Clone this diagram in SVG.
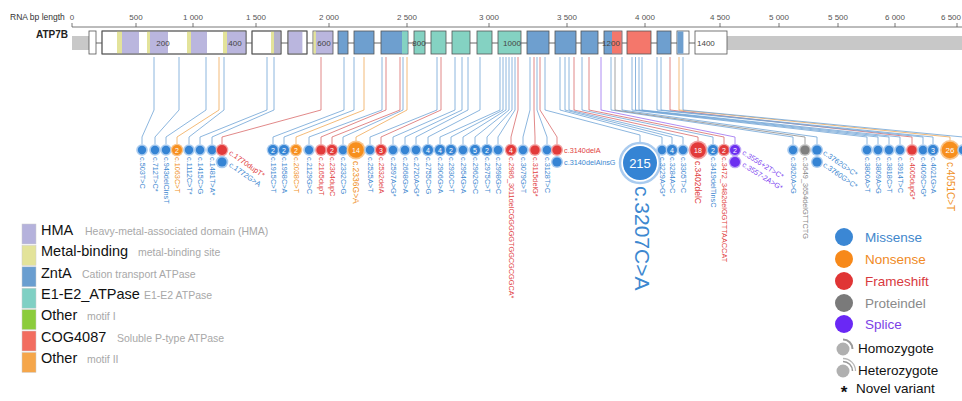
<svg xmlns="http://www.w3.org/2000/svg" width="962" height="401" viewBox="0 0 962 401">
<style>
text{font-family:"Liberation Sans",Arial,sans-serif}
.ax{font-size:8px;fill:#555;text-anchor:middle}
.bx{stroke:#555;stroke-width:0.8;fill:#fff}
.bl{font-size:8px;fill:#444;text-anchor:middle}
.cn{fill:none;stroke-width:0.8}
.kb{stroke:#6fa3d6}.ko{stroke:#f0a855}.kr{stroke:#d96b6b}.kp{stroke:#9b6ef0}.kg{stroke:#8a8a8a}
.hb{fill:#a9cbef}.ho{fill:#f9c48a}.hr{fill:#f2a2a2}.hg{fill:#c4c4c4}.hp{fill:#bca4f6}
.fb{fill:#3584d4}.fo{fill:#f78f1e}.fr{fill:#e23a3a}.fg{fill:#7f7f7f}.fp{fill:#6d2ff0}
.n{font-size:7px;fill:#fff;text-anchor:middle;dominant-baseline:central}
.t{font-size:7.3px;dominant-baseline:central}
.tb{fill:#3d88d0}.to{fill:#f0901e}.tr{fill:#df3f3f}.tg{fill:#888}.tp{fill:#7b3ff0}
.lg{font-size:14.5px;fill:#111}
.ld{font-size:10.5px;fill:#a8a8a8}
.rl{font-size:13.5px}
</style>

<g id="axis">
<text x="10" y="20" style="font-size:8.5px;fill:#333">RNA bp length</text>
<line x1="72" y1="27" x2="962" y2="27" stroke="#555" stroke-width="0.8"/>
<g stroke="#555" stroke-width="0.8">
<line x1="72" y1="23" x2="72" y2="27"/><line x1="136" y1="23" x2="136" y2="27"/><line x1="193" y1="23" x2="193" y2="27"/><line x1="256" y1="23" x2="256" y2="27"/><line x1="329" y1="23" x2="329" y2="27"/><line x1="407" y1="23" x2="407" y2="27"/><line x1="489" y1="23" x2="489" y2="27"/><line x1="567" y1="23" x2="567" y2="27"/><line x1="645" y1="23" x2="645" y2="27"/><line x1="720" y1="23" x2="720" y2="27"/><line x1="779" y1="23" x2="779" y2="27"/><line x1="838" y1="23" x2="838" y2="27"/><line x1="895" y1="23" x2="895" y2="27"/><line x1="957" y1="23" x2="957" y2="27"/>
</g>
<text class="ax" x="72" y="20">0</text><text class="ax" x="136" y="20">500</text><text class="ax" x="193" y="20">1 000</text><text class="ax" x="256" y="20">1 500</text><text class="ax" x="329" y="20">2 000</text><text class="ax" x="407" y="20">2 500</text><text class="ax" x="489" y="20">3 000</text><text class="ax" x="567" y="20">3 500</text><text class="ax" x="645" y="20">4 000</text><text class="ax" x="720" y="20">4 500</text><text class="ax" x="779" y="20">5 000</text><text class="ax" x="838" y="20">5 500</text><text class="ax" x="895" y="20">6 000</text><text class="ax" x="961" y="20" style="text-anchor:end">6 500</text>
</g>

<g id="gene">
<text x="36" y="38" style="font-size:10px;font-weight:bold;fill:#222">ATP7B</text>
<rect x="72" y="36" width="17" height="14" fill="#c8c8c8"/>
<rect x="727" y="36" width="235" height="14" fill="#c8c8c8"/>
<line x1="89" y1="43" x2="727" y2="43" stroke="#555" stroke-width="0.9"/>
<rect class="bx" x="89" y="31" width="7" height="23"/>
<rect class="bx" x="102" y="31" width="144" height="23"/>
<rect x="117" y="31.4" width="5" height="22.2" fill="#e3e39a"/><rect x="122" y="31.4" width="17" height="22.2" fill="#bab6de"/>
<rect x="147" y="31.4" width="3" height="22.2" fill="#e3e39a"/><rect x="150" y="31.4" width="18" height="22.2" fill="#bab6de"/>
<rect x="187" y="31.4" width="4" height="22.2" fill="#e3e39a"/><rect x="191" y="31.4" width="16" height="22.2" fill="#bab6de"/>
<rect x="223" y="31.4" width="4" height="22.2" fill="#e3e39a"/><rect x="227" y="31.4" width="19" height="22.2" fill="#bab6de"/>
<rect x="102" y="31" width="144" height="23" fill="none" stroke="#555" stroke-width="0.8"/>
<text class="bl" x="163" y="46">200</text><text class="bl" x="235" y="46">400</text>
<rect class="bx" x="252" y="31" width="29" height="23"/>
<rect x="271" y="31.4" width="3" height="22.2" fill="#e3e39a"/><rect x="274" y="31.4" width="6.6" height="22.2" fill="#b4b2cc"/>
<rect x="252" y="31" width="29" height="23" fill="none" stroke="#555" stroke-width="0.8"/>
<rect class="bx" x="288" y="31" width="19" height="23"/>
<rect x="288.4" y="31.4" width="14" height="22.2" fill="#bab6de"/>
<rect x="288" y="31" width="19" height="23" fill="none" stroke="#555" stroke-width="0.8"/>
<rect x="313" y="31" width="20" height="23" fill="#bab6de" stroke="#555" stroke-width="0.8"/>
<rect x="313.4" y="31.4" width="2.5" height="22.2" fill="#e3e39a"/>
<text class="bl" x="324" y="46">600</text>
<g stroke="#555" stroke-width="0.8">
<rect x="338" y="31" width="10" height="23" fill="#6e9fcf"/>
<rect x="354" y="31" width="20" height="23" fill="#6e9fcf"/>
<rect x="381" y="31" width="27" height="23" fill="#6e9fcf"/>
<rect x="414" y="31" width="11" height="23" fill="#84d2c2"/>
<rect x="431" y="31" width="15" height="23" fill="#84d2c2"/>
<rect x="452" y="31" width="18" height="23" fill="#84d2c2"/>
<rect x="477" y="31" width="15" height="23" fill="#84d2c2"/>
<rect x="498" y="31" width="23" height="23" fill="#84d2c2"/>
<rect x="527" y="31" width="22" height="23" fill="#6e9fcf"/>
<rect x="555" y="31" width="21" height="23" fill="#6e9fcf"/>
<rect x="581" y="31" width="17" height="23" fill="#6e9fcf"/>
<rect x="604" y="31" width="18" height="23" fill="#6e9fcf"/>
<rect x="627" y="31" width="24" height="23" fill="#f4776b"/>
<rect x="657" y="31" width="14" height="23" fill="#6e9fcf"/>
<rect x="677" y="31" width="12" height="23" fill="#fff"/>
<rect x="695" y="31" width="32" height="23" fill="#fff"/>
</g>
<rect x="402" y="31.4" width="5.6" height="22.2" fill="#84d2c2"/>
<rect x="612" y="31.4" width="9.6" height="22.2" fill="#f4776b"/>
<rect x="677.4" y="31.4" width="6" height="22.2" fill="#6e9fcf"/>
<text class="bl" x="419" y="46">800</text>
<text class="bl" x="512" y="46">1000</text>
<text class="bl" x="611" y="46">1200</text>
<text class="bl" x="697" y="46" style="text-anchor:start">1400</text>
</g>

<g id="connectors">
<polyline class="cn kb" points="154,57 154,110 142,137 142,144"/>
<polyline class="cn kb" points="179,57 179,110 155,137 155,144"/>
<polyline class="cn kb" points="206,57 206,110 166,137 166,144"/>
<polyline class="cn ko" points="219,57 219,110 177,137 177,144"/>
<polyline class="cn kb" points="224,57 224,110 189,137 189,144"/>
<polyline class="cn kb" points="267,57 267,110 200,137 200,144"/>
<polyline class="cn kb" points="274,57 274,110 212,137 212,144"/>
<polyline class="cn kr" points="321,57 321,110 222,137 222,144"/>
<polyline class="cn kb" points="344,57 344,110 273,137 273,144"/>
<polyline class="cn kb" points="354,57 354,110 284,137 284,144"/>
<polyline class="cn ko" points="364,57 364,110 296,137 296,144"/>
<polyline class="cn kb" points="382,57 382,110 309,137 309,144"/>
<polyline class="cn kr" points="386,57 386,110 321,137 321,144"/>
<polyline class="cn kr" points="400,57 400,110 332,137 332,144"/>
<polyline class="cn kb" points="403,57 403,110 343,137 343,144"/>
<polyline class="cn ko" points="407,57 407,110 356,137 356,141"/>
<polyline class="cn kb" points="437,57 437,110 370,137 370,144"/>
<polyline class="cn kr" points="441,57 441,110 381,137 381,144"/>
<polyline class="cn kb" points="455,57 455,110 393,137 393,144"/>
<polyline class="cn kb" points="462,57 462,110 405,137 405,144"/>
<polyline class="cn kb" points="468,57 468,110 416,137 416,144"/>
<polyline class="cn kb" points="480,57 480,110 428,137 428,144"/>
<polyline class="cn kb" points="500,57 500,110 440,137 440,144"/>
<polyline class="cn kb" points="503,57 503,110 451,137 451,144"/>
<polyline class="cn kb" points="506,57 506,110 463,137 463,144"/>
<polyline class="cn kb" points="509,57 509,110 475,137 475,144"/>
<polyline class="cn kb" points="512,57 512,110 487,137 487,144"/>
<polyline class="cn kb" points="515,57 515,110 498,137 498,144"/>
<polyline class="cn kr" points="518,57 518,110 511,137 511,144"/>
<polyline class="cn kb" points="530,57 530,110 523,137 523,144"/>
<polyline class="cn kr" points="534,57 534,110 535,137 535,144"/>
<polyline class="cn kb" points="537,57 537,110 547,137 547,144"/>
<polyline class="cn kr" points="540,57 540,110 557,137 557,144"/>
<polyline class="cn kb" points="545,57 545,110 640,135 640,143"/>
<polyline class="cn kb" points="560,57 560,110 662,137 662,144"/>
<polyline class="cn kb" points="565,57 565,110 672,137 672,144"/>
<polyline class="cn kb" points="569,57 569,110 683,137 683,144"/>
<polyline class="cn kr" points="574,57 574,110 698,137 698,141"/>
<polyline class="cn kb" points="582,57 582,110 713,137 713,144"/>
<polyline class="cn kr" points="589,57 589,110 724,137 724,144"/>
<polyline class="cn kp" points="601,57 601,110 735,137 735,144"/>
<polyline class="cn kb" points="611,57 611,110 793,137 793,144"/>
<polyline class="cn kg" points="615,57 615,110 805,137 805,144"/>
<polyline class="cn kb" points="622,57 622,110 817,137 817,144"/>
<polyline class="cn kb" points="632,57 632,110 867,137 867,144"/>
<polyline class="cn kb" points="635.5,57 635.5,110 878,137 878,144"/>
<polyline class="cn kb" points="639,57 639,110 889,137 889,144"/>
<polyline class="cn kb" points="642,57 642,110 900,137 900,144"/>
<polyline class="cn kr" points="670,57 670,110 912,137 912,144"/>
<polyline class="cn kb" points="657,57 657,110 923,137 923,144"/>
<polyline class="cn kb" points="661,57 661,110 933,137 933,144"/>
<polyline class="cn ko" points="679,57 679,110 950,137 950,140"/>
<polyline class="cn kb" points="683,57 683,110 963,137 963,144"/>
</g>

<g id="v503"><circle class="hb" cx="142" cy="150" r="5.8"/><circle class="fb" cx="142" cy="150" r="4.2"/><text class="t tb" x="142" y="157" transform="rotate(90 142 157)">c.503T&gt;C</text></g>
<g id="v712"><circle class="hb" cx="155" cy="150" r="5.8"/><circle class="fb" cx="155" cy="150" r="4.2"/><text class="t tb" x="155" y="157" transform="rotate(90 155 157)">c.712T&gt;C*</text></g>
<g id="v943"><circle class="hb" cx="166" cy="150" r="5.8"/><circle class="fb" cx="166" cy="150" r="4.2"/><text class="t tb" x="166" y="157" transform="rotate(90 166 157)">c.943delCinsT</text></g>
<g id="v1063"><circle class="ho" cx="177" cy="150" r="6.3"/><circle class="fo" cx="177" cy="150" r="5"/><text class="n" x="177" y="150">2</text><text class="t to" x="177" y="157" transform="rotate(90 177 157)">c.1063C&gt;T</text></g>
<g id="v1112"><circle class="hb" cx="189" cy="150" r="5.8"/><circle class="fb" cx="189" cy="150" r="4.2"/><text class="t tb" x="189" y="157" transform="rotate(90 189 157)">c.1112C&gt;T*</text></g>
<g id="v1415"><circle class="hb" cx="200" cy="150" r="5.8"/><circle class="fb" cx="200" cy="150" r="4.2"/><text class="t tb" x="200" y="157" transform="rotate(90 200 157)">c.1415C&gt;G</text></g>
<g id="v1481"><circle class="hb" cx="212" cy="150" r="5.8"/><circle class="fb" cx="212" cy="150" r="4.2"/><text class="t tb" x="212" y="157" transform="rotate(90 212 157)">c.1481T&gt;A*</text></g>
<g id="v1770"><circle class="hr" cx="222" cy="150" r="6.3"/><circle class="fr" cx="222" cy="150" r="5"/><text class="t tr" x="230" y="152" transform="rotate(35 230 152)">c.1770dupT*</text></g>
<g id="v1772"><circle class="hb" cx="222" cy="162" r="6.3"/><circle class="fb" cx="222" cy="162" r="4.6"/><text class="t tb" x="230" y="164" transform="rotate(35 230 164)">c.1772G&gt;A</text></g>
<g id="v1915"><circle class="hb" cx="273" cy="150" r="6.3"/><circle class="fb" cx="273" cy="150" r="5"/><text class="n" x="273" y="150">2</text><text class="t tb" x="273" y="157" transform="rotate(90 273 157)">c.1915C&gt;T</text></g>
<g id="v1958"><circle class="hb" cx="284" cy="150" r="6.3"/><circle class="fb" cx="284" cy="150" r="5"/><text class="n" x="284" y="150">2</text><text class="t tb" x="284" y="157" transform="rotate(90 284 157)">c.1958C&gt;A</text></g>
<g id="v2038"><circle class="ho" cx="296" cy="150" r="6.3"/><circle class="fo" cx="296" cy="150" r="5"/><text class="n" x="296" y="150">2</text><text class="t to" x="296" y="157" transform="rotate(90 296 157)">c.2038C&gt;T</text></g>
<g id="v2129"><circle class="hb" cx="309" cy="150" r="5.8"/><circle class="fb" cx="309" cy="150" r="4.2"/><text class="t tb" x="309" y="157" transform="rotate(90 309 157)">c.2129G&gt;C</text></g>
<g id="v2165"><circle class="hr" cx="321" cy="150" r="6"/><circle class="fr" cx="321" cy="150" r="4.6"/><text class="t tr" x="321" y="157" transform="rotate(90 321 157)">c.2165dupT</text></g>
<g id="v2304"><circle class="hr" cx="332" cy="150" r="6.3"/><circle class="fr" cx="332" cy="150" r="5"/><text class="n" x="332" y="150">2</text><text class="t tr" x="332" y="157" transform="rotate(90 332 157)">c.2304dupC</text></g>
<g id="v2332"><circle class="hb" cx="343" cy="150" r="5.8"/><circle class="fb" cx="343" cy="150" r="4.2"/><text class="t tb" x="343" y="157" transform="rotate(90 343 157)">c.2332C&gt;G</text></g>
<g id="v2336"><circle class="ho" cx="356" cy="150" r="9.5"/><circle class="fo" cx="356" cy="150" r="7.8"/><text class="n" x="356" y="150">14</text><text class="t to" x="356" y="161" transform="rotate(90 356 161)" style="font-size:8.5px">c.2336G&gt;A</text></g>
<g id="v2525"><circle class="hb" cx="370" cy="150" r="5.8"/><circle class="fb" cx="370" cy="150" r="4.2"/><text class="t tb" x="370" y="157" transform="rotate(90 370 157)">c.2525A&gt;T</text></g>
<g id="v2532"><circle class="hr" cx="381" cy="150" r="6.3"/><circle class="fr" cx="381" cy="150" r="5"/><text class="n" x="381" y="150">3</text><text class="t tr" x="381" y="157" transform="rotate(90 381 157)">c.2532delA</text></g>
<g id="v2597"><circle class="hb" cx="393" cy="150" r="5.8"/><circle class="fb" cx="393" cy="150" r="4.2"/><text class="t tb" x="393" y="157" transform="rotate(90 393 157)">c.2597A&gt;G*</text></g>
<g id="v2668"><circle class="hb" cx="405" cy="150" r="5.8"/><circle class="fb" cx="405" cy="150" r="4.2"/><text class="t tb" x="405" y="157" transform="rotate(90 405 157)">c.2668G&gt;A</text></g>
<g id="v2720"><circle class="hb" cx="416" cy="150" r="5.8"/><circle class="fb" cx="416" cy="150" r="4.2"/><text class="t tb" x="416" y="157" transform="rotate(90 416 157)">c.2720A&gt;G*</text></g>
<g id="v2755"><circle class="hb" cx="428" cy="150" r="6.3"/><circle class="fb" cx="428" cy="150" r="5"/><text class="n" x="428" y="150">4</text><text class="t tb" x="428" y="157" transform="rotate(90 428 157)">c.2755C&gt;G</text></g>
<g id="v2906"><circle class="hb" cx="440" cy="150" r="6.3"/><circle class="fb" cx="440" cy="150" r="5"/><text class="n" x="440" y="150">4</text><text class="t tb" x="440" y="157" transform="rotate(90 440 157)">c.2906G&gt;A</text></g>
<g id="v2930"><circle class="hb" cx="451" cy="150" r="6.3"/><circle class="fb" cx="451" cy="150" r="5"/><text class="n" x="451" y="150">2</text><text class="t tb" x="451" y="157" transform="rotate(90 451 157)">c.2930C&gt;T</text></g>
<g id="v2954"><circle class="hb" cx="463" cy="150" r="5.8"/><circle class="fb" cx="463" cy="150" r="4.2"/><text class="t tb" x="463" y="157" transform="rotate(90 463 157)">c.2954G&gt;A</text></g>
<g id="v2962"><circle class="hb" cx="475" cy="150" r="6.3"/><circle class="fb" cx="475" cy="150" r="5"/><text class="n" x="475" y="150">5</text><text class="t tb" x="475" y="157" transform="rotate(90 475 157)">c.2962G&gt;C</text></g>
<g id="v2975"><circle class="hb" cx="487" cy="150" r="6.3"/><circle class="fb" cx="487" cy="150" r="5"/><text class="n" x="487" y="150">2</text><text class="t tb" x="487" y="157" transform="rotate(90 487 157)">c.2975C&gt;T</text></g>
<g id="v2998"><circle class="hb" cx="498" cy="150" r="5.8"/><circle class="fb" cx="498" cy="150" r="4.2"/><text class="t tb" x="498" y="157" transform="rotate(90 498 157)">c.2998G&gt;C</text></g>
<g id="v2986"><circle class="hr" cx="511" cy="150" r="6.3"/><circle class="fr" cx="511" cy="150" r="5"/><text class="n" x="511" y="150">4</text><text class="t tr" x="511" y="157" transform="rotate(90 511 157)">c.2986_3011delCGGGGGTGGCGCGGCA*</text></g>
<g id="v3079"><circle class="hb" cx="523" cy="150" r="5.8"/><circle class="fb" cx="523" cy="150" r="4.2"/><text class="t tb" x="523" y="157" transform="rotate(90 523 157)">c.3079G&gt;T</text></g>
<g id="v3115"><circle class="hr" cx="535" cy="150" r="6"/><circle class="fr" cx="535" cy="150" r="4.6"/><text class="t tr" x="535" y="157" transform="rotate(90 535 157)">c.3115delG*</text></g>
<g id="v3128"><circle class="hb" cx="547" cy="150" r="5.8"/><circle class="fb" cx="547" cy="150" r="4.2"/><text class="t tb" x="547" y="157" transform="rotate(90 547 157)">c.3128T&gt;C</text></g>
<g id="v3140"><circle class="hr" cx="557" cy="150" r="6"/><circle class="fr" cx="557" cy="150" r="4.6"/><text class="t tr" x="564" y="150">c.3140delA</text></g>
<g id="v3140i"><circle class="hb" cx="557" cy="162" r="6"/><circle class="fb" cx="557" cy="162" r="4.6"/><text class="t tb" x="564" y="162">c.3140delAinsG</text></g>
<g id="v3207"><circle cx="640" cy="163" r="20" fill="#fff" stroke="#a9cbef" stroke-width="2.5"/><circle class="fb" cx="640" cy="163" r="17"/><text class="n" x="640" y="163" style="font-size:13px">215</text><text class="t tb" x="642" y="186" transform="rotate(90 642 186)" style="font-size:21px">c.3207C&gt;A</text></g>
<g id="v3229"><circle class="hb" cx="662" cy="150" r="5.8"/><circle class="fb" cx="662" cy="150" r="4.2"/><text class="t tb" x="662" y="157" transform="rotate(90 662 157)">c.3229A&gt;G*</text></g>
<g id="v3284"><circle class="hb" cx="672" cy="150" r="6.3"/><circle class="fb" cx="672" cy="150" r="5"/><text class="n" x="672" y="150">4</text><text class="t tb" x="672" y="157" transform="rotate(90 672 157)">c.3284A&gt;C</text></g>
<g id="v3305"><circle class="hb" cx="683" cy="150" r="5.8"/><circle class="fb" cx="683" cy="150" r="4.2"/><text class="t tb" x="683" y="157" transform="rotate(90 683 157)">c.3305T&gt;C</text></g>
<g id="v3402"><circle class="hr" cx="698" cy="150" r="9.5"/><circle class="fr" cx="698" cy="150" r="7.8"/><text class="n" x="698" y="150">18</text><text class="t tr" x="698" y="161" transform="rotate(90 698 161)" style="font-size:8.5px">c.3402delC</text></g>
<g id="v3419"><circle class="hb" cx="713" cy="150" r="6.3"/><circle class="fb" cx="713" cy="150" r="5"/><text class="n" x="713" y="150">2</text><text class="t tb" x="713" y="157" transform="rotate(90 713 157)">c.3419delTinsC</text></g>
<g id="v3472"><circle class="hr" cx="724" cy="150" r="6.3"/><circle class="fr" cx="724" cy="150" r="5"/><text class="n" x="724" y="150">2</text><text class="t tr" x="724" y="157" transform="rotate(90 724 157)">c.3472_3482delGGTTTAACCAT</text></g>
<g id="v3556"><circle class="hp" cx="735" cy="150" r="6.3"/><circle class="fp" cx="735" cy="150" r="5"/><text class="n" x="735" y="150">2</text><text class="t tp" x="743" y="152" transform="rotate(32 743 152)">c.3556+2T&gt;C*</text></g>
<g id="v3557"><circle class="hp" cx="735" cy="162" r="6.3"/><circle class="fp" cx="735" cy="162" r="5"/><text class="t tp" x="743" y="164" transform="rotate(32 743 164)">c.3557-2A&gt;G*</text></g>
<g id="v3620"><circle class="hb" cx="793" cy="150" r="5.8"/><circle class="fb" cx="793" cy="150" r="4.2"/><text class="t tb" x="793" y="157" transform="rotate(90 793 157)">c.3620A&gt;G</text></g>
<g id="v3649"><circle class="hg" cx="805" cy="150" r="6"/><circle class="fg" cx="805" cy="150" r="4.6"/><text class="t tg" x="805" y="157" transform="rotate(90 805 157)">c.3649_3654delGTTCTG</text></g>
<g id="v3762"><circle class="hb" cx="817" cy="150" r="6"/><circle class="fb" cx="817" cy="150" r="4.6"/><text class="t tb" x="824" y="152" transform="rotate(35 824 152)">c.3762G&gt;C*</text></g>
<g id="v3760"><circle class="hb" cx="817" cy="162" r="6"/><circle class="fb" cx="817" cy="162" r="4.6"/><text class="t tb" x="824" y="164" transform="rotate(35 824 164)">c.3760G&gt;C*</text></g>
<g id="v3800"><circle class="hb" cx="867" cy="150" r="5.8"/><circle class="fb" cx="867" cy="150" r="4.2"/><text class="t tb" x="867" y="157" transform="rotate(90 867 157)">c.3800A&gt;T</text></g>
<g id="v3809"><circle class="hb" cx="878" cy="150" r="5.8"/><circle class="fb" cx="878" cy="150" r="4.2"/><text class="t tb" x="878" y="157" transform="rotate(90 878 157)">c.3809A&gt;G</text></g>
<g id="v3818"><circle class="hb" cx="889" cy="150" r="5.8"/><circle class="fb" cx="889" cy="150" r="4.2"/><text class="t tb" x="889" y="157" transform="rotate(90 889 157)">c.3818C&gt;T</text></g>
<g id="v3914"><circle class="hb" cx="900" cy="150" r="5.8"/><circle class="fb" cx="900" cy="150" r="4.2"/><text class="t tb" x="900" y="157" transform="rotate(90 900 157)">c.3914T&gt;C</text></g>
<g id="v4005"><circle class="hr" cx="912" cy="150" r="6"/><circle class="fr" cx="912" cy="150" r="4.6"/><text class="t tr" x="912" y="157" transform="rotate(90 912 157)">c.4005dupG*</text></g>
<g id="v4009"><circle class="hb" cx="923" cy="150" r="5.8"/><circle class="fb" cx="923" cy="150" r="4.2"/><text class="t tb" x="923" y="157" transform="rotate(90 923 157)">c.4009C&gt;G*</text></g>
<g id="v4021"><circle class="hb" cx="933" cy="150" r="6.3"/><circle class="fb" cx="933" cy="150" r="5"/><text class="n" x="933" y="150">3</text><text class="t tb" x="933" y="157" transform="rotate(90 933 157)">c.4021G&gt;A</text></g>
<g id="v4051"><circle class="ho" cx="950" cy="150" r="10"/><circle class="fo" cx="950" cy="150" r="8.3"/><text class="n" x="950" y="150" style="font-size:8px">26</text><text class="t to" x="950" y="162" transform="rotate(90 950 162)" style="font-size:10px">c.4051C&gt;T</text></g>
<g id="vEdge"><circle class="hb" cx="963" cy="150" r="5.8"/><circle class="fb" cx="963" cy="150" r="4.2"/></g>

<g id="legend-domains">
<rect x="22" y="224" width="14" height="20" fill="#b5b2dc" stroke="#ccc" stroke-width="0.5"/>
<rect x="22" y="245.4" width="14" height="20" fill="#e3e39a" stroke="#ccc" stroke-width="0.5"/>
<rect x="22" y="266.8" width="14" height="20" fill="#6a9ed0" stroke="#ccc" stroke-width="0.5"/>
<rect x="22" y="288.2" width="14" height="20" fill="#80d0c4" stroke="#ccc" stroke-width="0.5"/>
<rect x="22" y="309.6" width="14" height="20" fill="#8ccc3c" stroke="#ccc" stroke-width="0.5"/>
<rect x="22" y="331" width="14" height="20" fill="#f26d60" stroke="#ccc" stroke-width="0.5"/>
<rect x="22" y="352.4" width="14" height="20" fill="#f5a64a" stroke="#ccc" stroke-width="0.5"/>
<text class="lg" x="41" y="235">HMA</text><text class="ld" x="85" y="235">Heavy-metal-associated domain (HMA)</text>
<text class="lg" x="41" y="256">Metal-binding</text><text class="ld" x="138" y="256">metal-binding site</text>
<text class="lg" x="41" y="278">ZntA</text><text class="ld" x="82" y="278">Cation transport ATPase</text>
<text class="lg" x="41" y="299">E1-E2_ATPase</text><text class="ld" x="144" y="299">E1-E2 ATPase</text>
<text class="lg" x="41" y="320">Other</text><text class="ld" x="87" y="320">motif I</text>
<text class="lg" x="41" y="342">COG4087</text><text class="ld" x="117" y="342">Soluble P-type ATPase</text>
<text class="lg" x="41" y="363">Other</text><text class="ld" x="87" y="363">motif II</text>
</g>

<g id="legend-types">
<circle cx="844" cy="237" r="9" fill="#3b87d4"/><text class="rl" x="865" y="242" fill="#3f87cc">Missense</text>
<circle cx="844" cy="259" r="9" fill="#f7891a"/><text class="rl" x="865" y="264" fill="#f08a25">Nonsense</text>
<circle cx="844" cy="281" r="9" fill="#e03535"/><text class="rl" x="865" y="286" fill="#d8393e">Frameshift</text>
<circle cx="844" cy="303" r="9" fill="#7a7a7a"/><text class="rl" x="865" y="308" fill="#8a8a8a">Proteindel</text>
<circle cx="844" cy="324" r="9" fill="#6a28f5"/><text class="rl" x="865" y="329" fill="#7c3fe6">Splice</text>
<circle cx="843" cy="349" r="6.5" fill="#b0b0b0"/><path d="M 843 339.5 A 9.5 9.5 0 0 1 852.5 349" fill="none" stroke="#9a9a9a" stroke-width="2"/><text class="rl" x="858" y="353" fill="#111">Homozygote</text>
<circle cx="843" cy="371" r="6.5" fill="#b0b0b0"/><path d="M 843 361.5 A 9.5 9.5 0 0 1 852.5 371" fill="none" stroke="#9a9a9a" stroke-width="1.5"/><path d="M 843 358.5 A 12.5 12.5 0 0 1 855.5 371" fill="none" stroke="#b8b8b8" stroke-width="1.3"/><text class="rl" x="858" y="375" fill="#111">Heterozygote</text>
<text x="844" y="398" style="font-size:17px;font-weight:bold;fill:#111;text-anchor:middle">*</text><text class="rl" x="856" y="393" fill="#111">Novel variant</text>
</g>
</svg>
